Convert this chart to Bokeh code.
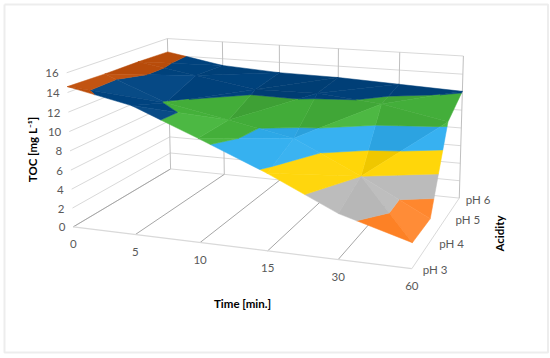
import numpy as np
from bokeh.plotting import figure
from bokeh.models import Range1d
from bokeh.core.properties import value
from bokeh.embed import file_html
from bokeh.resources import INLINE

times = ["0", "5", "10", "15", "30", "60"]
acidity = ["pH 3", "pH 4", "pH 5", "pH 6"]
toc_ticks = [0, 2, 4, 6, 8, 10, 12, 14, 16]
pH3 = [14.6, 13.2, 10.5, 7.7, 4.5, 2.5]
pH4 = [14.5, 11.9, 10.6, 9.3, 6.0, 2.4]
pH5 = [14.5, 13.4, 12.3, 12.4, 11.75, 10.4]
pH6 = [14.4, 13.2, 12.8, 12.7, 12.4, 12.1]
band_colors = ["#4472C4", "#FF8225", "#B8B8B8", "#FFD400", "#2FAEF0", "#46B53C", "#004582", "#C04F0A"]
anti_cells = [(4, 0)]
acidity_label_gap = [11, 9.5, 10, 6.5]

Z = np.array([pH3, pH4, pH5, pH6])

# camera: matched positions of the plot box (time idx, acidity idx, toc) -> picture px
cam = [
    (0,0,0,73,226),(1,0,0,135,234),(2,0,0,200,242),(3,0,0,267,251),(4,0,0,337,259),(5,0,0,411,268),
    (5,1,0,430,242),(5,2,0,445,218),(5,3,0,457,197),(0,3,0,170,168),(1,3,0,223,174),(4,3,0,399,192),
    (0,0,16,66,72),(0,3,16,167,38),(5,3,16,463,55),(1,3,16,222,42),(3,3,16,338,48),(4,3,16,399,52),
]
A = []
for a, b, c, x, y in cam:
    A.append([a, b, c, 1, 0, 0, 0, 0, -x*a, -x*b, -x*c, -x])
    A.append([0, 0, 0, 0, a, b, c, 1, -y*a, -y*b, -y*c, -y])
P = np.linalg.svd(np.array(A, float))[2][-1].reshape(3, 4)

def proj(a, b, c):
    v = P @ np.array([a, b, c, 1.0])
    return v[0]/v[2], v[1]/v[2]

def clip(poly, axis_val, keep_above):
    out = []
    n = len(poly)
    for k in range(n):
        s, e = poly[k], poly[(k+1) % n]
        si = (s[2] >= axis_val) if keep_above else (s[2] <= axis_val)
        ei = (e[2] >= axis_val) if keep_above else (e[2] <= axis_val)
        if si:
            out.append(s)
        if si != ei:
            t = (axis_val - s[2])/(e[2] - s[2])
            out.append(tuple(s[m] + t*(e[m] - s[m]) for m in range(3)))
    return out

def shade(col, f):
    rgb = [int(col[i:i+2], 16) for i in (1, 3, 5)]
    if f <= 1:
        rgb = [c*f for c in rgb]
    else:
        rgb = [c + (255-c)*(f-1) for c in rgb]
    return "#%02x%02x%02x" % tuple(int(round(c)) for c in rgb)

tris = []
for j in range(3):
    for i in range(5):
        a = (i, j, Z[j, i]); b = (i+1, j, Z[j, i+1]); c = (i+1, j+1, Z[j+1, i+1]); d = (i, j+1, Z[j+1, i])
        if (i, j) in anti_cells:
            tris += [(a, b, d), (b, c, d)]
        else:
            tris += [(a, b, c), (a, c, d)]
tris.sort(key=lambda t: -np.mean([v[1] for v in t]))

xs, ys, cols = [], [], []
for t in tris:
    m = np.array([[v[0], v[1], 1] for v in t], float)
    g = np.linalg.solve(m, np.array([v[2] for v in t]))
    f = float(np.clip(0.9 - 0.05*g[0] - 0.005*g[1], 0.85, 1.15))
    for b, col in enumerate(band_colors):
        lo, hi = b*2, b*2+2
        pl = clip(list(t), lo, True)
        if len(pl) >= 3:
            pl = clip(pl, hi, False)
        if len(pl) >= 3:
            pts = [proj(*v) for v in pl]
            xs.append([q[0] for q in pts]); ys.append([q[1] for q in pts]); cols.append(shade(col, f))

p = figure(width=550, height=358, x_range=Range1d(0, 550), y_range=Range1d(358, 0),
           output_backend="svg", toolbar_location=None, min_border=0, outline_line_color=None)
p.xaxis.visible = False; p.yaxis.visible = False; p.xgrid.visible = False; p.ygrid.visible = False

# frame
p.multi_line([[4, 547.5, 547.5, 4, 4]], [[4, 4, 352, 352, 4]], line_color="#EDEDED", line_width=2)

def seg(a1, a2, color, w=1):
    u, v = proj(*a1), proj(*a2)
    p.line([u[0], v[0]], [u[1], v[1]], line_color=color, line_width=w)

for z in toc_ticks:
    seg((0, 0, z), (0, 3, z), "#D9D9D9")
    seg((0, 3, z), (5, 3, z), "#D9D9D9")
for i in range(6):
    seg((i, 0, 0), (i, 3, 0), "#A6A6A6" if i < 5 else "#D9D9D9")
    seg((i, 3, 0), (i, 3, 16), "#BFBFBF")
seg((0, 0, 0), (5, 0, 0), "#D9D9D9", 1.2)

p.patches(xs, ys, fill_color=cols, line_color=cols, line_width=0.5)

lab = dict(text_font=value("Lato"), text_font_size="11.5px", text_color="#595959", text_baseline="middle")
zp = [proj(0, 0, z) for z in toc_ticks]
p.text([q[0]-8 for q in zp], [q[1]+0.5 for q in zp], text=[str(z) for z in toc_ticks], text_align="right", **lab)
tp = [proj(i, 0, 0) for i in range(6)]
p.text([q[0] for q in tp], [q[1]+17 for q in tp], text=times, text_align="center", **lab)
ap = [proj(5, j, 0) for j in range(4)]
p.text([q[0]+d for q, d in zip(ap, acidity_label_gap)], [q[1]+1 for q in ap], text=acidity, text_align="left", **lab)

ttl = dict(text_font=value("Lato"), text_font_size="11.5px", text_font_style="bold", text_color="#000000",
           text_align="center", text_baseline="middle")
p.text([242], [303], text=["Time [min.]"], **ttl)
p.text([32], [149], text=["TOC [mg L⁻¹]"], angle=np.pi/2, **ttl)
p.text([499], [233], text=["Acidity"], angle=np.pi/2, **ttl)

open("out.html", "w").write(file_html(p, INLINE))
